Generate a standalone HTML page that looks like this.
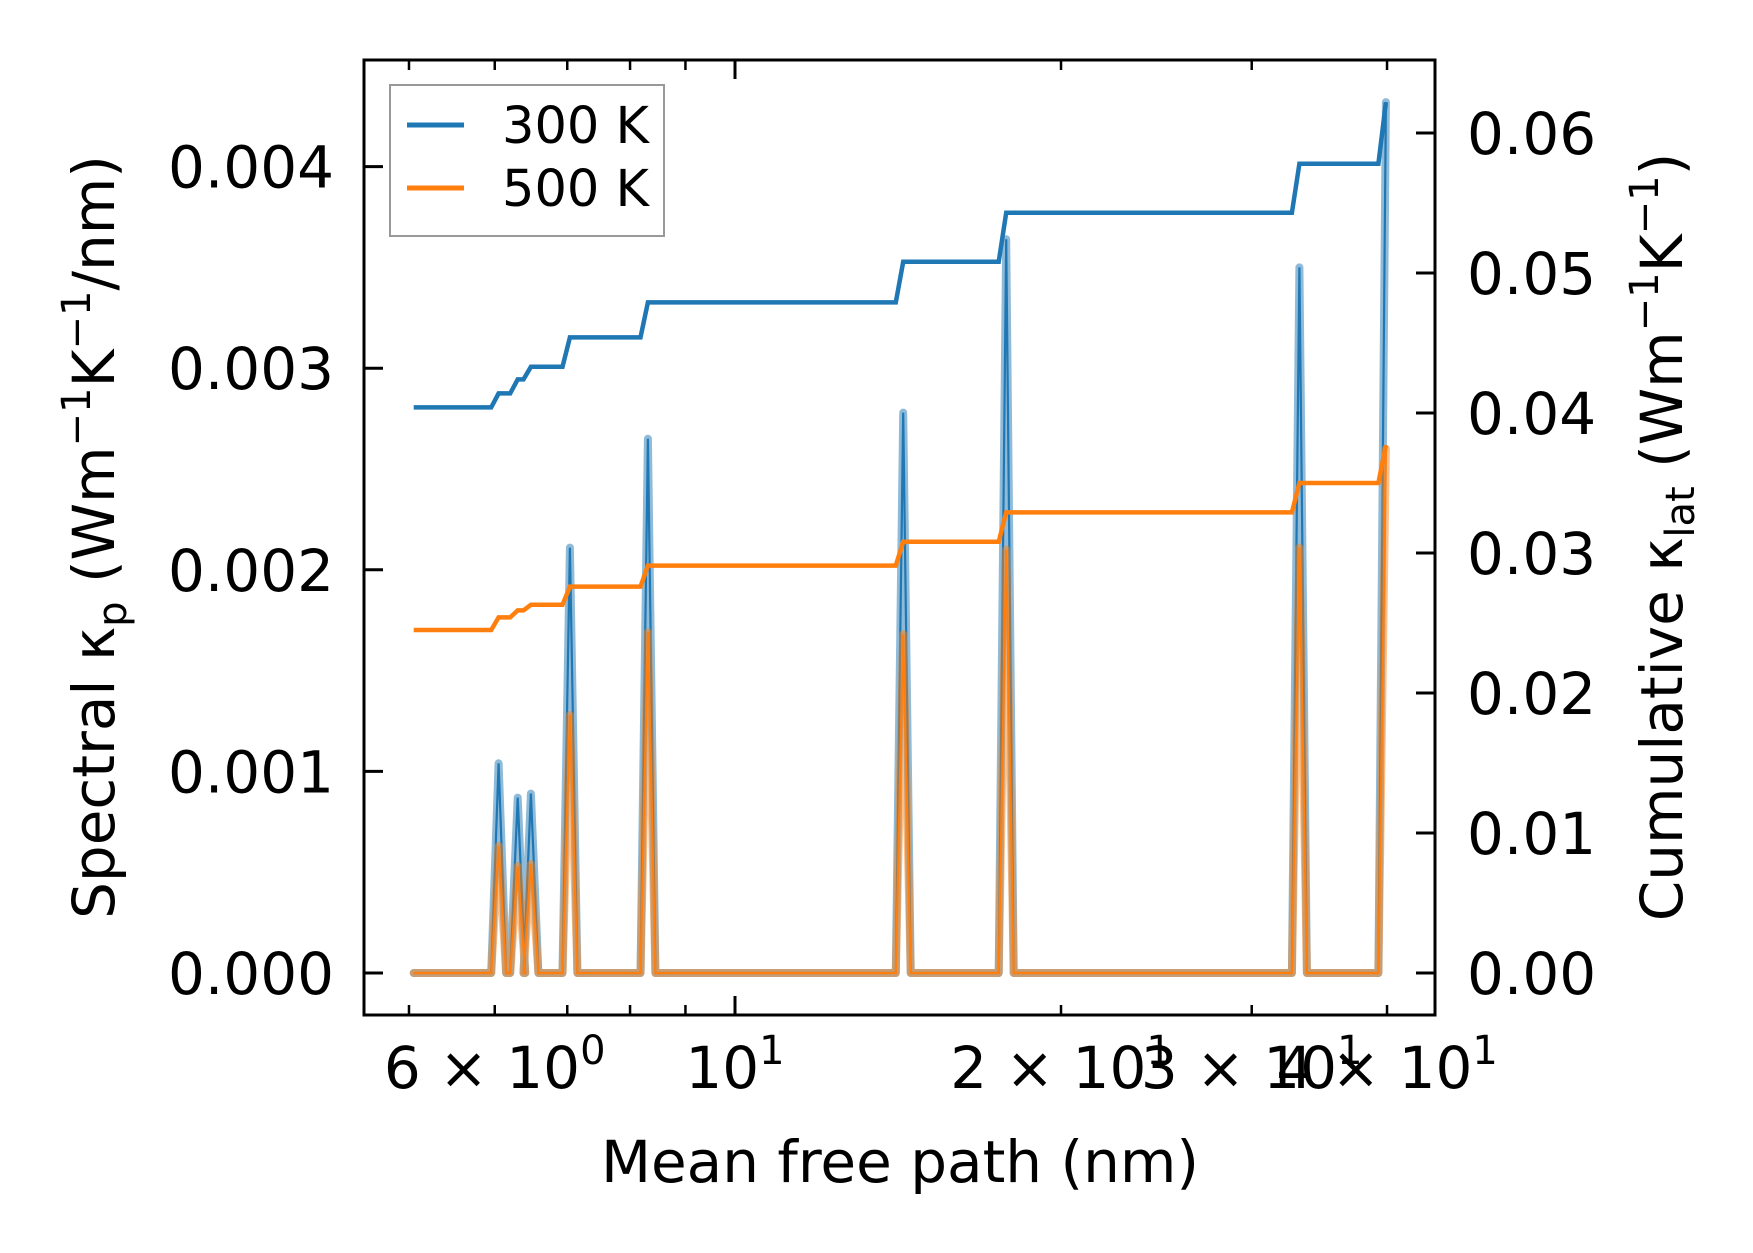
<!DOCTYPE html>
<html><head><meta charset="utf-8"><style>
html,body{margin:0;padding:0;background:#fff;}
svg{display:block;font-family:"DejaVu Sans","Liberation Sans",sans-serif;}
</style></head><body>
<svg id="chart" width="1753" height="1253" viewBox="0 0 1753 1253">
<rect width="1753" height="1253" fill="#fff"/>
<g id="plot"></g>
<g>
<rect x="390" y="85" width="274" height="151" fill="#fff" stroke="#999" stroke-width="2"/>
<line x1="407" x2="464" y1="125" y2="125" stroke="#1f77b4" stroke-width="5"/>
<text x="502" y="143" font-size="51">300 K</text>
<line x1="407" x2="464" y1="188" y2="188" stroke="#ff7f0e" stroke-width="5"/>
<text x="502" y="206" font-size="51">500 K</text>
</g>
<text x="900" y="1182" font-size="58" text-anchor="middle">Mean free path (nm)</text>
<text transform="translate(114,537) rotate(-90)" font-size="58" text-anchor="middle">Spectral κ<tspan font-size="40" dy="12">p</tspan><tspan dy="-12"> (Wm</tspan><tspan font-size="40" dy="-24">−1</tspan><tspan dy="24">K</tspan><tspan font-size="40" dy="-24">−1</tspan><tspan dy="24">/nm)</tspan></text>
<text transform="translate(1682,537) rotate(-90)" font-size="58" text-anchor="middle">Cumulative κ<tspan font-size="40" dy="12">lat</tspan><tspan dy="-12"> (Wm</tspan><tspan font-size="40" dy="-24">−1</tspan><tspan dy="24">K</tspan><tspan font-size="40" dy="-24">−1</tspan><tspan dy="24">)</tspan></text>
</svg>
<script>
const spikeX = [6.05, 6.30, 6.48, 7.04, 8.31, 14.3, 17.8, 33.2, 39.9];
const spec300 = [0.00104, 0.00087, 0.00089, 0.00211, 0.00265, 0.00278, 0.00364, 0.00350, 0.00432];
const spec500 = [0.00063, 0.00053, 0.00054, 0.00128, 0.00169, 0.00168, 0.00210, 0.00211, 0.00260];
const cum300 = [0.0404, 0.0414, 0.0424, 0.0433, 0.0454, 0.0479, 0.0508, 0.0543, 0.0578, 0.0622];
const cum500 = [0.0245, 0.0254, 0.0259, 0.0263, 0.0276, 0.0291, 0.0308, 0.0329, 0.0350, 0.0377];
const xStart = 5.05;
const leftTicks = [0, 0.001, 0.002, 0.003, 0.004];
const leftTickLabels = ["0.000", "0.001", "0.002", "0.003", "0.004"];
const rightTicks = [0, 0.01, 0.02, 0.03, 0.04, 0.05, 0.06];
const rightTickLabels = ["0.00", "0.01", "0.02", "0.03", "0.04", "0.05", "0.06"];
const xMinorTicks = [5, 6, 7, 8, 9, 20, 30, 40];
const xLabelTicks = [6, 10, 20, 30, 40];
const xLabelMant = ["6", "", "2", "3", "4"];
const xLabelExp = ["0", "1", "1", "1", "1"];

const L = 364, R = 1435, T = 60, B = 1015;
const X0 = 735, DEC = 1083;
const Y0 = 973;
function sx(v){ return X0 + Math.log10(v/10)*DEC; }
function syL(v){ return Y0 - v/0.001*201.6; }
function syR(v){ return Y0 - v/0.01*140; }
const NS = "http://www.w3.org/2000/svg";
const g = document.getElementById('plot');
function el(tag, attrs, parent){ const e = document.createElementNS(NS, tag); for (const k in attrs) e.setAttribute(k, attrs[k]); (parent||g).appendChild(e); return e; }

function specPts(vals){
  const p = [[xStart, 0]];
  for (let i=0;i<spikeX.length;i++){
    p.push([spikeX[i]/1.016, 0]); p.push([spikeX[i], vals[i]]);
    if (i < spikeX.length-1) p.push([spikeX[i]*1.016, 0]);
  }
  return p.map(q => sx(q[0]).toFixed(1)+','+syL(q[1]).toFixed(1)).join(' ');
}
function cumPts(vals){
  const p = [[xStart, vals[0]]];
  for (let i=0;i<spikeX.length;i++){
    p.push([spikeX[i]/1.016, vals[i]]); p.push([spikeX[i], vals[i+1]]);
  }
  return p.map(q => sx(q[0]).toFixed(1)+','+syR(q[1]).toFixed(1)).join(' ');
}

let e;
e = el('polyline', {points: specPts(spec300), fill:'none', stroke:'#1f77b4', 'stroke-opacity':0.5, 'stroke-width':8, 'stroke-linejoin':'round', 'stroke-linecap':'round'});


e = el('polyline', {points: specPts(spec300), fill:'none', stroke:'#1f77b4', 'stroke-width':2.2});


e = el('polyline', {points: specPts(spec500), fill:'none', stroke:'#ff7f0e', 'stroke-opacity':0.5, 'stroke-width':8, 'stroke-linejoin':'round', 'stroke-linecap':'round'});


e = el('polyline', {points: specPts(spec500), fill:'none', stroke:'#ff7f0e', 'stroke-width':2.2});


e = el('polyline', {points: cumPts(cum300), fill:'none', stroke:'#1f77b4', 'stroke-width':4.5});


e = el('polyline', {points: cumPts(cum500), fill:'none', stroke:'#ff7f0e', 'stroke-width':4.5});



e = el('rect', {x:L, y:T, width:R-L, height:B-T, fill:'none', stroke:'#000', 'stroke-width':3});



leftTicks.forEach((v,i)=>{
  const y = syL(v);
  const t = el('line', {x1:L, x2:L+19, y1:y, y2:y, stroke:'#000', 'stroke-width':3});
  
  
  const tx = el('text', {x:334, y:y+21, 'font-size':58, 'text-anchor':'end'});
  tx.textContent = leftTickLabels[i];
  
  
});
rightTicks.forEach((v,i)=>{
  const y = syR(v);
  const t = el('line', {x1:R-19, x2:R, y1:y, y2:y, stroke:'#000', 'stroke-width':3});
  
  
  const tx = el('text', {x:1467, y:y+21, 'font-size':58});
  tx.textContent = rightTickLabels[i];
  
  
});
xMinorTicks.forEach(v=>{
  const x = sx(v);
  [[B-10,B],[T,T+10]].forEach(pp=>{
    const t = el('line', {x1:x, x2:x, y1:pp[0], y2:pp[1], stroke:'#000', 'stroke-width':2.5});
    
    
  });
});
[[B-19,B],[T,T+19]].forEach(pp=>{
  const t = el('line', {x1:sx(10), x2:sx(10), y1:pp[0], y2:pp[1], stroke:'#000', 'stroke-width':3});
  
  
});
xLabelTicks.forEach((v,i)=>{
  const tx = el('text', {x:sx(v), y:1088, 'font-size':58, 'text-anchor':'middle'});
  
  
  const m = xLabelMant[i];
  tx.textContent = (m ? m + ' \u00d7 ' : '') + '10';
  const s = document.createElementNS(NS,'tspan');
  s.setAttribute('font-size', 40); s.setAttribute('dy', -24);
  s.textContent = xLabelExp[i];
  tx.appendChild(s);
});
</script>
</body></html>
